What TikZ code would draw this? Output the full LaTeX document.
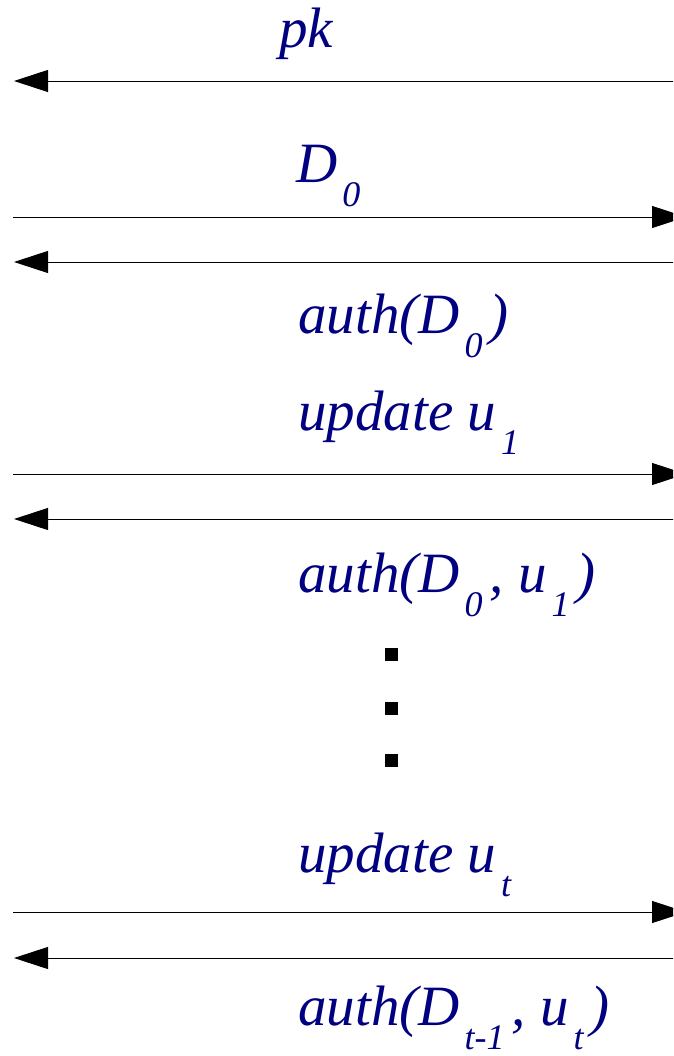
\documentclass[tikz,border=0pt]{standalone}
\usepackage{fontspec}
\setmainfont{Liberation Serif}
\newfontfamily\msgfont{Liberation Serif}[ItalicFont={Liberation Serif Italic}]
\usetikzlibrary{arrows.meta}
\definecolor{msgblue}{RGB}{0,0,128}
\newcommand\sbs[1]{\kern5pt\raisebox{-24pt}{\fontsize{36}{36}\selectfont #1}\kern7pt}
\begin{document}
\begin{tikzpicture}[x=1pt,y=-1pt,
  msg/.style={anchor=base west,inner sep=0pt,text=msgblue,font=\msgfont\fontsize{57}{60}\selectfont\itshape},
  arr/.style={draw=black,line width=0.9pt,-{Triangle[length=34pt,width=22pt]}},
  dotsq/.style={fill=black,draw=none,minimum size=13pt,inner sep=0pt}]
\useasboundingbox (0,0) rectangle (673,1056);
\clip (0,0) rectangle (673,1056);
% end points
\coordinate (R1) at (680,81);   \coordinate (L1) at (14,81);
\coordinate (L2) at (13,217);   \coordinate (R2) at (686,217);
\coordinate (R3) at (680,262);  \coordinate (L3) at (14,262);
\coordinate (L4) at (13,474);   \coordinate (R4) at (686,474);
\coordinate (R5) at (680,519);  \coordinate (L5) at (14,519);
\coordinate (L6) at (13,912);   \coordinate (R6) at (686,912);
\coordinate (R7) at (680,958);  \coordinate (L7) at (14,958);
% arrows
\draw[arr] (R1) -- (L1);
\draw[arr] (L2) -- (R2);
\draw[arr] (R3) -- (L3);
\draw[arr] (L4) -- (R4);
\draw[arr] (R5) -- (L5);
\draw[arr] (L6) -- (R6);
\draw[arr] (R7) -- (L7);
% labels
\node[msg] (t1) at (279,48) {pk};
\node[msg] (t2) at (296,183) {D\sbs{0}};
\node[msg] (t3) at (298,333) {auth(D\sbs{0})};
\node[msg] (t4) at (298,430) {update u\sbs{1}};
\node[msg] (t5) at (298,592) {auth(D\sbs{0}, u\sbs{1})};
\node[msg] (t6) at (298,872) {update u\sbs{t}};
\node[msg] (t7) at (298,1025) {auth(D\sbs{t-1}, u\sbs{t})};
% dots
\node[dotsq] (d1) at (391.5,654.5) {};
\node[dotsq] (d2) at (391.5,708.5) {};
\node[dotsq] (d3) at (391.5,760.5) {};
\end{tikzpicture}
\end{document}
